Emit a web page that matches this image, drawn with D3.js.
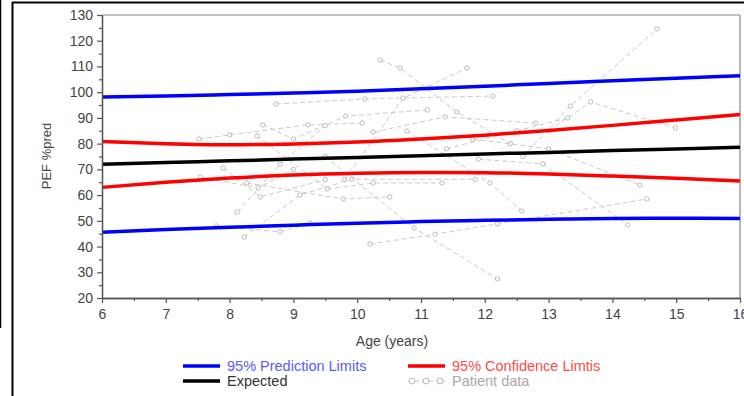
<!DOCTYPE html>
<html><head><meta charset="utf-8">
<script src="https://cdn.jsdelivr.net/npm/d3@7"></script>
<style>body{margin:0;background:#fff;}svg{display:block;font-family:"Liberation Sans",Arial,sans-serif;}</style>
</head><body>
<svg id="c" width="744" height="396"></svg>
<script>
const ages = [6,7,8,9,10,11,12,13,14,15,16];
const upperPI = [98.1,98.5,99.1,99.7,100.4,101.3,102.3,103.4,104.4,105.4,106.4];
const lowerPI = [45.6,46.6,47.5,48.3,49.1,49.7,50.2,50.6,50.9,51.0,50.9];
const upperCI = [80.8,80.0,79.6,79.9,80.6,81.8,83.3,85.1,87.1,89.2,91.3];
const lowerCI = [63.0,65.0,66.6,67.8,68.5,68.8,68.7,68.2,67.4,66.5,65.5];
const expected = [72.0,72.7,73.3,74.0,74.6,75.3,76.0,76.6,77.3,77.9,78.6];
const patients = [
  [[8.73,95.4],[10.12,97.4],[12.13,98.5]],
  [[10.36,112.5],[10.67,109.4],[11.56,92.3],[12.4,80]],
  [[9.8,66],[10.72,97.7],[11.72,109.4]],
  [[12.6,75],[13.34,94.6],[14.70,124.6]],
  [[13.0,85],[13.66,96.2],[14.99,86.1]],
  [[7.52,81.8],[8.0,83.4],[9.23,87.3],[10.08,88.0]],
  [[8.52,87.3],[9.0,81.8],[9.82,90.7],[11.1,93.1]],
  [[8.43,83],[9.53,62.4],[10.25,64.7],[11.33,64.7]],
  [[8.27,64.7],[9.78,58.5],[10.51,59.3]],
  [[8.12,53.4],[8.79,72],[9.5,87]],
  [[7.79,48],[8.79,45.7],[9.26,49.2]],
  [[8.23,43.7],[9.1,60],[9.92,66.2],[11.85,66.1]],
  [[10.2,41],[11.22,44.8],[12.2,48.8],[14.54,58.5]],
  [[9.5,75],[10.89,47.2],[12.2,27.4]],
  [[11.9,74],[12.91,72.1],[14.24,48.4]],
  [[10.78,84.9],[12.08,64.7],[12.58,53.8]],
  [[11.81,81.8],[13.0,78],[14.43,63.9]],
  [[7.9,70.5],[8.48,59.3],[9.5,66]],
  [[7.54,67],[8.45,62.8],[9.0,70]],
  [[10.25,84.5],[11.38,90.4],[12.8,88]],
  [[11.4,78],[12.5,85],[13.3,90]]
];
const xTicks = [6,7,8,9,10,11,12,13,14,15,16];
const yTicks = [20,30,40,50,60,70,80,90,100,110,120,130];
const legendItems = [
  {label:"95% Prediction Limits", color:"#0000ff", text:"#5a5aff", kind:"line"},
  {label:"95% Confidence Limtis", color:"#ff0000", text:"#ff4a4a", kind:"line"},
  {label:"Expected", color:"#000000", text:"#333333", kind:"line"},
  {label:"Patient data", color:"#c4c4c4", text:"#a8a8a8", kind:"patient"}
];

const svg = d3.select("#c");
const L=102, R=740, T=15, B=298;
const x = d3.scaleLinear().domain([6,16]).range([L,R]);
const y = d3.scaleLinear().domain([20,130]).range([B,T]);

// outer frame
svg.append("line").attr("x1",12).attr("x2",744).attr("y1",2.5).attr("y2",2.5).attr("stroke","#000").attr("stroke-width",2);
svg.append("line").attr("x1",12.5).attr("x2",12.5).attr("y1",2).attr("y2",396).attr("stroke","#000").attr("stroke-width",2);
svg.append("line").attr("x1",0.5).attr("x2",0.5).attr("y1",0).attr("y2",328).attr("stroke","#000").attr("stroke-width",1.5);

// plot frame top/right
svg.append("line").attr("x1",L).attr("x2",R).attr("y1",T).attr("y2",T).attr("stroke","#888").attr("stroke-width",1.2);
svg.append("line").attr("x1",R).attr("x2",R).attr("y1",T).attr("y2",B).attr("stroke","#888").attr("stroke-width",1.2);

// patient data
const g = svg.append("g");
const pl = d3.line().x(d=>x(d[0])).y(d=>y(d[1]));
patients.forEach(p=>{
  g.append("path").attr("d",pl(p)).attr("fill","none").attr("stroke","#cbcbcb").attr("stroke-width",1).attr("stroke-dasharray","5,3");
  g.selectAll(null).data(p).enter().append("circle").attr("cx",d=>x(d[0])).attr("cy",d=>y(d[1])).attr("r",2.2)
    .attr("fill","#fff").attr("stroke","#b4b4b4").attr("stroke-width",0.9);
});

const ln = d3.line().x((d,i)=>x(ages[i])).y(d=>y(d)).curve(d3.curveMonotoneX);
[[upperPI,"#0000ff"],[lowerPI,"#0000ff"],[upperCI,"#ff0000"],[lowerCI,"#ff0000"],[expected,"#000"]].forEach(([arr,c])=>{
  svg.append("path").attr("d",ln(arr)).attr("fill","none").attr("stroke",c).attr("stroke-width",3.5);
});

// axes
const ax = svg.append("g").attr("transform",`translate(0,${B})`)
  .call(d3.axisBottom(x).tickValues(xTicks).tickFormat(d3.format("d")).tickSize(5).tickSizeOuter(0));
const axm = svg.append("g").attr("transform",`translate(0,${B})`)
  .call(d3.axisBottom(x).tickValues(d3.range(6.5,16,1)).tickFormat("").tickSize(3).tickSizeOuter(0));
const ay = svg.append("g").attr("transform",`translate(${L},0)`)
  .call(d3.axisLeft(y).tickValues(yTicks).tickSize(5).tickSizeOuter(0));
const aym = svg.append("g").attr("transform",`translate(${L},0)`)
  .call(d3.axisLeft(y).tickValues(d3.range(25,130,10)).tickFormat("").tickSize(3).tickSizeOuter(0));
[ax,axm,ay,aym].forEach(a=>{
  a.select(".domain").attr("stroke","#555").attr("stroke-width",1.3);
  a.selectAll(".tick line").attr("stroke","#555").attr("stroke-width",1.2);
  a.selectAll(".tick text").attr("fill","#444").attr("font-size",14).attr("font-family","Liberation Sans, Arial, sans-serif");
});
ax.selectAll(".tick text").attr("dy","0.95em");
ay.selectAll(".tick text").attr("dx","-1px");

svg.append("text").attr("x",392).attr("y",346).attr("text-anchor","middle").attr("font-size",14).attr("fill","#444").text("Age (years)");
svg.append("text").attr("transform","translate(51,156) rotate(-90)").attr("text-anchor","middle").attr("font-size",13).attr("fill","#444").text("PEF %pred");

// legend
const pos = [[183,366],[408,366],[183,381],[408,381]];
legendItems.forEach((it,i)=>{
  const [lx,ly]=pos[i];
  if(it.kind==="line"){
    svg.append("line").attr("x1",lx).attr("x2",lx+37).attr("y1",ly).attr("y2",ly).attr("stroke",it.color).attr("stroke-width",3.5);
  } else {
    svg.append("line").attr("x1",lx).attr("x2",lx+37).attr("y1",ly).attr("y2",ly).attr("stroke",it.color).attr("stroke-width",1).attr("stroke-dasharray","4,3");
    [lx+4,lx+18,lx+32].forEach(cx=>svg.append("circle").attr("cx",cx).attr("cy",ly).attr("r",3).attr("fill","#fff").attr("stroke","#b8b8b8"));
  }
  svg.append("text").attr("x",lx+44).attr("y",ly+5).attr("font-size",14.5).attr("fill",it.text).text(it.label);
});
</script>
</body></html>
